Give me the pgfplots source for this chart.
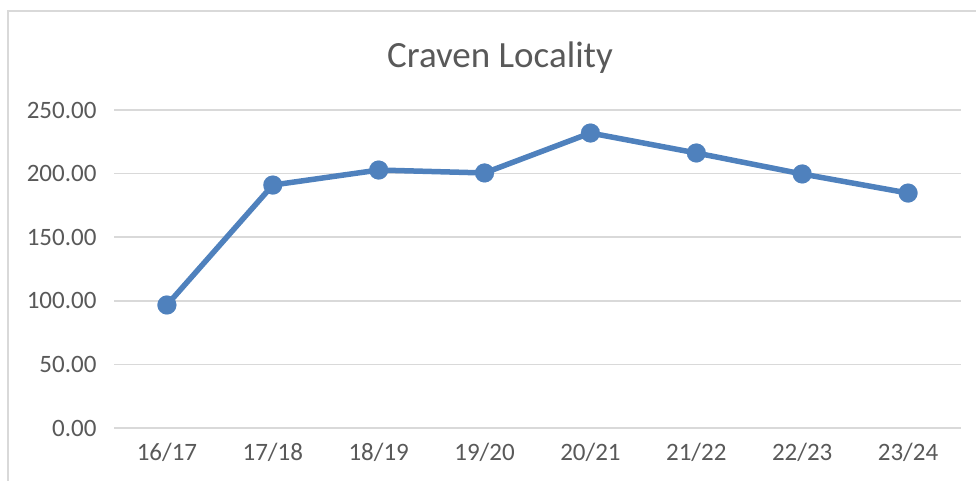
\documentclass[border=0pt]{standalone}
\usepackage{fontspec}
\setmainfont{Carlito}
\usepackage{pgfplots}
\pgfplotsset{compat=1.18}
\definecolor{txt}{HTML}{595959}
\definecolor{gridc}{HTML}{D9D9D9}
\definecolor{ser}{HTML}{4F81BD}
\begin{document}
\begin{tikzpicture}
\useasboundingbox (0bp,0bp) rectangle (976bp,481bp);
\draw[gridc, line width=1.5bp] (8bp,-20bp) -- (8bp,470bp) -- (1000bp,470bp);
\begin{axis}[
  at={(114bp,53bp)}, anchor=south west,
  scale only axis, width=847bp, height=318bp,
  xmin=-0.5, xmax=7.5, ymin=0, ymax=250,
  ytick={0,50,100,150,200,250},
  xtick={0,1,2,3,4,5,6,7},
  xticklabels={16/17,17/18,18/19,19/20,20/21,21/22,22/23,23/24},
  axis line style={draw=none},
  major tick length=0pt,
  ymajorgrids, grid style={gridc, line width=1.5bp},
  /pgf/number format/assume math mode=true,
  yticklabel={\pgfmathprintnumber[fixed,fixed zerofill,precision=2]{\tick}},
  tick label style={font=\fontsize{25bp}{29bp}\selectfont, text=txt},
  yticklabel style={anchor=east, xshift=-14bp},
  xticklabel style={anchor=north, yshift=-12bp},
  clip=false,
]
\addplot[ser, line width=5.5bp, mark=*, mark size=9.5bp, mark options={fill=ser, draw=ser, line width=0.1bp}]
coordinates {(0,96.7) (1,191.0) (2,202.8) (3,200.5) (4,231.9) (5,216.2) (6,199.7) (7,184.7)};
\end{axis}
\node[text=txt, font=\fontsize{37bp}{43bp}\selectfont] at (500bp,423bp) {Craven Locality};
\end{tikzpicture}
\end{document}
